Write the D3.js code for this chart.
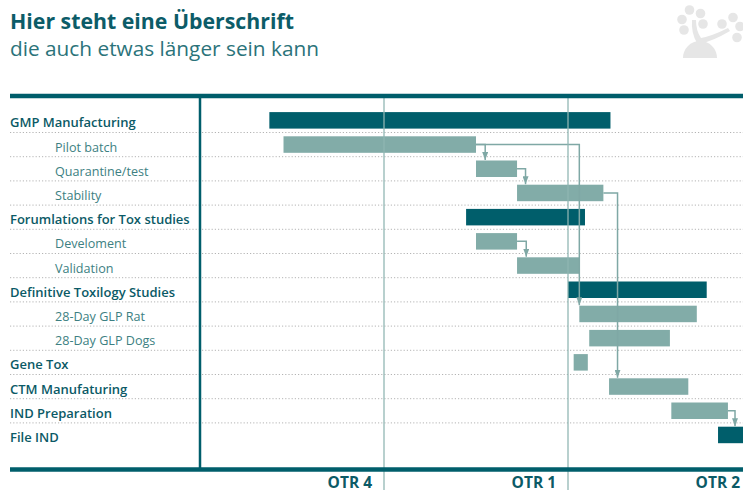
<!DOCTYPE html>
<html>
<head>
<meta charset="utf-8">
<script src="https://cdn.jsdelivr.net/npm/d3@7"></script>
<style>
  body { margin: 0; background: #fff; }
  svg { display: block; font-family: "Open Sans", sans-serif; }
</style>
</head>
<body>
<div id="wrapper"></div>
<script>
const width = 743,
    height = 490;

// tasks, top to bottom (time unit: weeks from start of OTR 4)
const taskNames = ["GMP Manufacturing", "Pilot batch", "Quarantine/test", "Stability",
    "Forumlations for Tox studies", "Develoment", "Validation",
    "Definitive Toxilogy Studies", "28-Day GLP Rat", "28-Day GLP Dogs",
    "Gene Tox", "CTM Manufaturing", "IND Preparation", "File IND"];
const taskMain  = [true, false, false, false, true, false, false, true, false, false, true, true, true, true];
const taskDark  = [true, false, false, false, true, false, false, true, false, false, false, false, false, true];
const taskStart = [4.9, 5.9, 19.5, 22.4, 18.8, 19.5, 22.4, 26.0, 26.8, 27.5, 26.4, 28.9, 33.3, 36.6];
const taskEnd   = [29.0, 19.5, 22.4, 28.5, 27.2, 22.4, 26.8, 35.8, 35.1, 33.2, 27.4, 34.5, 37.3, 39.0];

// dependencies: from task -> to task, turning down at week linkTurn
const linkFrom = [1, 1, 2, 3, 5, 12];
const linkTo   = [2, 8, 3, 11, 6, 13];
const linkTurn = [20.15, 26.8, 23.0, 29.5, 23.05, 37.8];

const quarterLabels = ["OTR 4", "OTR 1", "OTR 2"];
const quarterEnds   = [13, 26, 39];

const dark = "#005e6b",
    light = "#82aca8",
    lineCol = "#7fa8a5";

const svg = d3.select("#wrapper")
    .append("svg")
    .attr("width", width)
    .attr("height", height);

const defs = svg.append("defs");
defs.append("marker")
    .attr("id", "arrow")
    .attr("viewBox", "0 0 8 6")
    .attr("refX", 8).attr("refY", 3)
    .attr("markerWidth", 8).attr("markerHeight", 6)
    .attr("markerUnits", "userSpaceOnUse")
    .attr("orient", "auto")
    .append("path")
    .attr("d", "M0,0L8,3L0,6Z")
    .attr("fill", lineCol);

const x = d3.scaleLinear()
    .domain([0, 39])
    .range([200, 752]);

const y = d3.scaleBand()
    .domain(d3.range(taskNames.length))
    .range([108.3, 108.3 + 24.2 * taskNames.length]);

const barH = 16.5, barOff = 3.8;

// title
svg.append("text")
    .attr("x", 10).attr("y", 28.5)
    .attr("fill", "#0c5c68")
    .style("font-size", "21.3px")
    .style("font-weight", 700)
    .text("Hier steht eine Überschrift");

svg.append("text")
    .attr("x", 10).attr("y", 55.5)
    .attr("fill", "#2b737a")
    .style("font-size", "20.8px")
    .text("die auch etwas länger sein kann");

// logo (decoration)
const logo = svg.append("g").attr("fill", "#e6e6e6").attr("stroke", "none");
logo.append("path")
    .attr("d", "M683,58 A17,17 0 0 1 717,58 Z");
logo.append("path")
    .attr("d", "M692,20 Q691,33 697,43 L702,43 Q713,41 730,31 L728,28 Q712,36 701,38 Q696,31 696,20 Z");
[[689.5, 10], [700.5, 13.5], [682, 19.5], [703, 24], [684, 30], [722, 24], [733, 17.5], [740, 26.5], [737, 37.5]]
    .forEach(c => logo.append("circle").attr("cx", c[0]).attr("cy", c[1]).attr("r", 4.8));

// row separators
svg.append("g")
    .selectAll("line")
    .data(d3.range(taskNames.length - 1))
    .join("line")
    .attr("x1", 10).attr("x2", width)
    .attr("y1", d => y(d) + y.bandwidth())
    .attr("y2", d => y(d) + y.bandwidth())
    .attr("stroke", "#b4b4b4")
    .attr("stroke-width", 1)
    .attr("stroke-dasharray", "1.2,2");

// labels
svg.append("g")
    .selectAll("text")
    .data(taskNames)
    .join("text")
    .attr("x", (d, i) => taskMain[i] ? 10 : 55)
    .attr("y", (d, i) => y(i) + barOff + barH / 2 + 7)
    .attr("fill", (d, i) => taskMain[i] ? "#0b5a66" : "#3d7f82")
    .style("font-size", (d, i) => taskMain[i] ? "13px" : "12.6px")
    .style("font-weight", (d, i) => taskMain[i] ? 600 : 400)
    .text(d => d);

// bars
svg.append("g")
    .selectAll("rect")
    .data(taskNames)
    .join("rect")
    .attr("x", (d, i) => x(taskStart[i]))
    .attr("width", (d, i) => x(taskEnd[i]) - x(taskStart[i]))
    .attr("y", (d, i) => y(i) + barOff)
    .attr("height", barH)
    .attr("fill", (d, i) => taskDark[i] ? dark : light);

// dependency connectors
svg.append("g")
    .selectAll("path")
    .data(linkFrom)
    .join("path")
    .attr("d", (d, i) => {
        const x0 = x(taskEnd[d]),
            y0 = y(d) + barOff + barH / 2,
            x1 = x(linkTurn[i]),
            y1 = y(linkTo[i]) + barOff - 0.5;
        return "M" + x0 + "," + y0 + "H" + x1 + "V" + y1;
    })
    .attr("fill", "none")
    .attr("stroke", lineCol)
    .attr("stroke-width", 1.5)
    .attr("marker-end", "url(#arrow)");

// quarter boundaries
svg.append("g")
    .selectAll("line")
    .data(quarterEnds.slice(0, 2))
    .join("line")
    .attr("x1", d => x(d)).attr("x2", d => x(d))
    .attr("y1", 96).attr("y2", height)
    .attr("stroke", "#8fb5b2")
    .attr("stroke-opacity", 0.85)
    .attr("stroke-width", 1.5);

// frame
svg.append("line")
    .attr("x1", 10).attr("x2", width)
    .attr("y1", 96).attr("y2", 96)
    .attr("stroke", dark).attr("stroke-width", 4.5);

svg.append("line")
    .attr("x1", 10).attr("x2", width)
    .attr("y1", 469.5).attr("y2", 469.5)
    .attr("stroke", dark).attr("stroke-width", 4.5);

svg.append("line")
    .attr("x1", 200).attr("x2", 200)
    .attr("y1", 96).attr("y2", 469.5)
    .attr("stroke", dark).attr("stroke-width", 2.5);

// quarter labels
svg.append("g")
    .selectAll("text")
    .data(quarterLabels)
    .join("text")
    .attr("x", (d, i) => x(quarterEnds[i]) - 12)
    .attr("y", 487.5)
    .attr("text-anchor", "end")
    .attr("fill", "#0b5a66")
    .style("font-size", "15.5px")
    .style("font-weight", 700)
    .text(d => d);
</script>
</body>
</html>
